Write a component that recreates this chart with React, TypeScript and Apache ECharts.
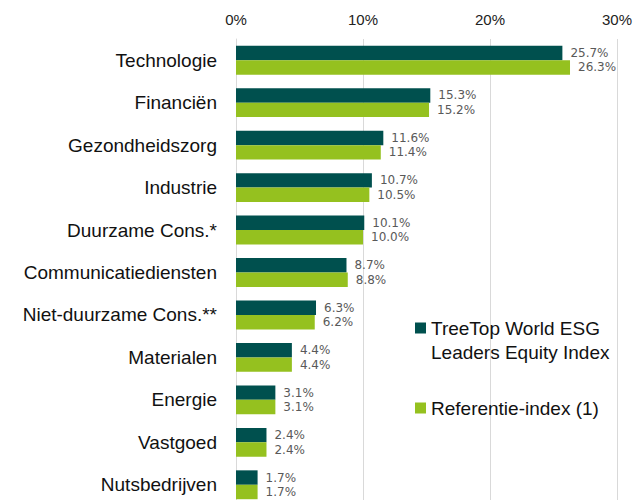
import React, { useEffect, useRef } from "react";
import * as echarts from "echarts";

const categories = [
  "Technologie",
  "Financiën",
  "Gezondheidszorg",
  "Industrie",
  "Duurzame Cons.*",
  "Communicatiediensten",
  "Niet-duurzame Cons.**",
  "Materialen",
  "Energie",
  "Vastgoed",
  "Nutsbedrijven",
];
const seriesNames = ["TreeTop World ESG Leaders Equity Index", "Referentie-index (1)"];
const treeTopValues = [25.7, 15.3, 11.6, 10.7, 10.1, 8.7, 6.3, 4.4, 3.1, 2.4, 1.7];
const referenceValues = [26.3, 15.2, 11.4, 10.5, 10.0, 8.8, 6.2, 4.4, 3.1, 2.4, 1.7];
const axisTicks = [0, 10, 20, 30];

const DARK = "#00504e";
const GREEN = "#95c11f";

export default function App() {
  const ref = useRef<HTMLDivElement>(null);
  useEffect(() => {
    if (!ref.current) return;
    const chart = echarts.init(ref.current, undefined, { renderer: "svg" });
    const labelCfg = {
      show: true,
      position: "right" as const,
      distance: 8,
      fontFamily: "DejaVu Sans",
      fontSize: 12,
      color: "#595959",
      formatter: (p: any) => p.value.toFixed(1) + "%",
    };
    const legendText = {
      fontFamily: "Liberation Sans",
      fontSize: 19,
      lineHeight: 24,
      color: "#111111",
    };
    chart.setOption({
      animation: false,
      backgroundColor: "#ffffff",
      grid: {
        left: 236,
        right: 16,
        top: 39,
        height: 467,
        containLabel: false,
        outerBoundsMode: "none",
      },
      xAxis: {
        type: "value",
        position: "top",
        min: axisTicks[0],
        max: axisTicks[axisTicks.length - 1],
        interval: 10,
        axisLine: { show: false },
        axisTick: { show: false },
        axisLabel: {
          formatter: "{value}%",
          fontFamily: "Liberation Sans",
          fontSize: 15,
          color: "#222222",
          margin: 12,
        },
        splitLine: { show: true, lineStyle: { color: "#d9d9d9", width: 1 } },
      },
      yAxis: {
        type: "category",
        data: categories,
        inverse: true,
        axisLine: { show: true, lineStyle: { color: "#d9d9d9", width: 1 } },
        axisTick: { show: false },
        axisLabel: {
          fontFamily: "Liberation Sans",
          fontSize: 19,
          color: "#111111",
          margin: 19,
        },
      },
      legend: [
        {
          data: [seriesNames[0]],
          orient: "vertical",
          left: 415,
          top: 292,
          padding: 0,
          itemWidth: 11,
          itemHeight: 11,
          icon: "rect",
          formatter: () => " \nTreeTop World ESG\nLeaders Equity Index",
          textStyle: legendText,
        },
        {
          data: [seriesNames[1]],
          orient: "vertical",
          left: 415,
          top: 396,
          padding: 0,
          itemWidth: 11,
          itemHeight: 11,
          icon: "rect",
          textStyle: legendText,
        },
      ],
      series: [
        {
          name: seriesNames[0],
          type: "bar",
          data: treeTopValues,
          barCategoryGap: "32%",
          barGap: "0%",
          itemStyle: { color: DARK },
          label: labelCfg,
        },
        {
          name: seriesNames[1],
          type: "bar",
          data: referenceValues,
          barCategoryGap: "32%",
          barGap: "0%",
          itemStyle: { color: GREEN },
          label: labelCfg,
        },
      ],
    });
    return () => chart.dispose();
  }, []);
  return (
    <div
      ref={ref}
      style={{ position: "fixed", left: 0, top: 0, width: 633, height: 500, background: "#fff" }}
    />
  );
}
